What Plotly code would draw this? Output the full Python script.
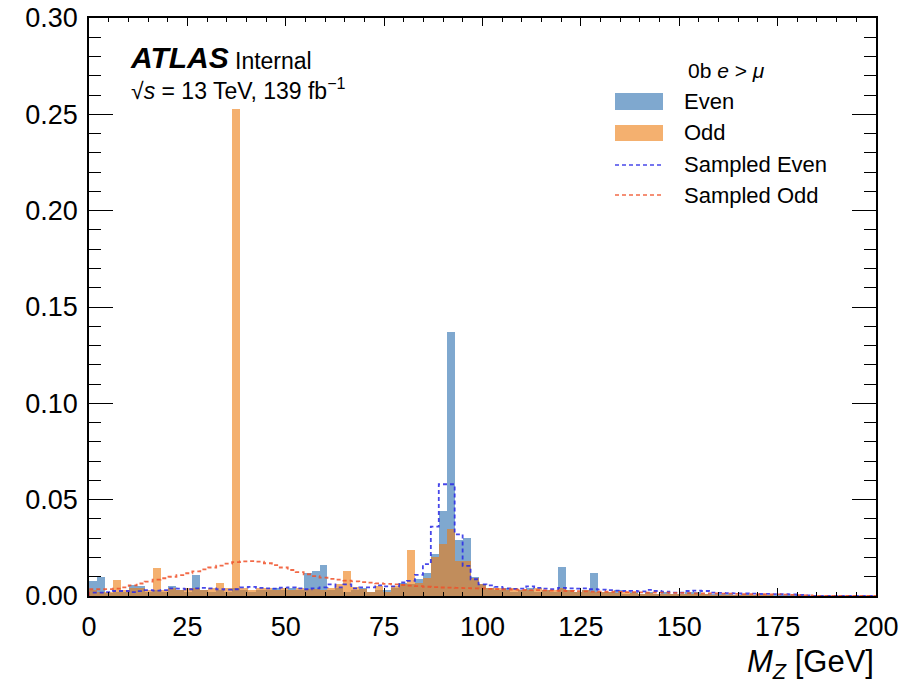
import numpy as np
import plotly.graph_objects as go

# ---------------- data (normalised counts per bin) ----------------
bin_edges = np.linspace(0, 200, 100)  # 99 bins

even = [
    0.008, 0.010, 0.0015, 0.002, 0.002, 0.0055, 0.005, 0.002, 0.003, 0.002,
    0.005, 0.003, 0.002, 0.011, 0.003, 0.002, 0.003, 0.002, 0.004, 0.003,
    0.002, 0.003, 0.003, 0.004, 0.003, 0.004, 0.003, 0.012, 0.013, 0.016,
    0.003, 0.004, 0.002, 0.003, 0.004, 0.002, 0.003, 0.003, 0.004, 0.007,
    0.006, 0.009, 0.012, 0.022, 0.044, 0.137, 0.029, 0.030, 0.010, 0.006,
    0.004, 0.003, 0.004, 0.002, 0.003, 0.004, 0.002, 0.003, 0.002, 0.015,
    0.003, 0.002, 0.003, 0.012, 0.002, 0.002, 0.003, 0.001, 0.002, 0.001,
    0.002, 0.001, 0.002, 0.001, 0.001, 0.002, 0.002, 0.001, 0.001, 0.001,
    0.001, 0.0005, 0.001, 0.0005, 0.001, 0.0005, 0.0005, 0.0005, 0.0003, 0.0003,
    0, 0, 0, 0, 0, 0, 0, 0, 0,
]

odd = [
    0.003, 0.002, 0.002, 0.0083, 0.003, 0.004, 0.004, 0.003, 0.0147, 0.003,
    0.004, 0.003, 0.004, 0.004, 0.003, 0.004, 0.007, 0.004, 0.253, 0.004,
    0.003, 0.004, 0.004, 0.003, 0.004, 0.003, 0.004, 0.0035, 0.0035, 0.003,
    0.004, 0.006, 0.013, 0.0045, 0.0035, 0.002, 0.005, 0.002, 0.005, 0.006,
    0.024, 0.007, 0.0095, 0.020, 0.027, 0.035, 0.018, 0.018, 0.0095, 0.006,
    0.004, 0.004, 0.003, 0.004, 0.003, 0.003, 0.004, 0.003, 0.003, 0.004,
    0.003, 0.002, 0.003, 0.002, 0.002, 0.002, 0.0015, 0.002, 0.0015, 0.001,
    0.0015, 0.001, 0.001, 0.001, 0.001, 0.001, 0.0008, 0.0008, 0.0006, 0.0006,
    0.0005, 0.0005, 0.0004, 0.0004, 0.0003, 0.0003, 0.0002, 0.0002, 0.0002, 0.0001,
    0, 0, 0, 0, 0, 0, 0, 0, 0,
]

sampled_even = [
    0.0017, 0.0017, 0.002, 0.0026, 0.0026, 0.002, 0.0025, 0.003, 0.0028, 0.003,
    0.004, 0.0038, 0.0035, 0.004, 0.0042, 0.004, 0.0035, 0.0033, 0.0035, 0.0045,
    0.0047, 0.0042, 0.004, 0.0038, 0.0043, 0.0045, 0.004, 0.0035, 0.004, 0.0045,
    0.006, 0.0045, 0.006, 0.004, 0.0045, 0.0045, 0.0055, 0.005, 0.005, 0.007,
    0.0078, 0.011, 0.0165, 0.036, 0.058, 0.058, 0.032, 0.0156, 0.0087, 0.006,
    0.0055, 0.0047, 0.004, 0.0037, 0.0038, 0.005, 0.0042, 0.0038, 0.0036, 0.0042,
    0.004, 0.0038, 0.004, 0.0035, 0.0033, 0.003, 0.0028, 0.0026, 0.0027, 0.0024,
    0.0032, 0.0026, 0.0022, 0.0018, 0.0018, 0.0026, 0.0028, 0.0026, 0.0018, 0.0016,
    0.0015, 0.0014, 0.0013, 0.0012, 0.0011, 0.0011, 0.001, 0.0009, 0.0008, 0.0006,
    0.0003, 0, 0, 0, 0, 0, 0, 0, 0,
]

sampled_odd = [
    0.0035, 0.0035, 0.0036, 0.0038, 0.0045, 0.0055, 0.0065, 0.0075, 0.0085, 0.0092,
    0.0100, 0.0108, 0.0118, 0.0128, 0.0138, 0.0148, 0.0158, 0.0168, 0.0176, 0.0180,
    0.0181, 0.0178, 0.0170, 0.0160, 0.0148, 0.0135, 0.0124, 0.0113, 0.0103, 0.0095,
    0.0089, 0.0085, 0.0080, 0.0076, 0.0072, 0.0069, 0.0066, 0.0063, 0.0060, 0.0057,
    0.0054, 0.0051, 0.0048, 0.0046, 0.0044, 0.0043, 0.0042, 0.0041, 0.0040, 0.0039,
    0.0037, 0.0036, 0.0035, 0.0033, 0.0032, 0.0031, 0.0030, 0.0029, 0.0028, 0.0027,
    0.0026, 0.0025, 0.0024, 0.0023, 0.0022, 0.0022, 0.0021, 0.0020, 0.0020, 0.0019,
    0.0018, 0.0018, 0.0017, 0.0016, 0.0016, 0.0015, 0.0014, 0.0014, 0.0013, 0.0012,
    0.0012, 0.0011, 0.0010, 0.0010, 0.0009, 0.0008, 0.0008, 0.0007, 0.0006, 0.0005,
    0.0003, 0, 0, 0, 0, 0, 0, 0, 0,
]

series_names = ["Even", "Odd", "Sampled Even", "Sampled Odd"]
x_ticks = [0, 25, 50, 75, 100, 125, 150, 175, 200]
y_ticks = [0.0, 0.05, 0.10, 0.15, 0.20, 0.25, 0.30]

# ---------------- styling ----------------
FONT = "Liberation Sans, Arial, Helvetica, sans-serif"
C_EVEN = "rgba(42,110,175,0.6)"
C_ODD = "rgba(237,123,15,0.6)"
C_SEVEN = "rgba(40,40,230,0.85)"
C_SODD = "rgba(240,80,40,0.85)"

centers = 0.5 * (bin_edges[:-1] + bin_edges[1:])
widths = np.diff(bin_edges)


def step_xy(vals):
    xs = [bin_edges[0]] + list(bin_edges)
    ys = [0.0] + list(vals) + [0.0]
    return xs, ys


fig = go.Figure()
fig.add_trace(go.Bar(x=centers, y=even, width=widths, name=series_names[0],
                     marker=dict(color=C_EVEN, line=dict(width=0)), showlegend=False))
fig.add_trace(go.Bar(x=centers, y=odd, width=widths, name=series_names[1],
                     marker=dict(color=C_ODD, line=dict(width=0)), showlegend=False))
xs, ys = step_xy(sampled_even)
fig.add_trace(go.Scatter(x=xs, y=ys, mode="lines", line_shape="hv", name=series_names[2],
                         line=dict(color=C_SEVEN, width=1.8, dash="4px,3px"), showlegend=False))
xs, ys = step_xy(sampled_odd)
fig.add_trace(go.Scatter(x=xs, y=ys, mode="lines", line_shape="hv", name=series_names[3],
                         line=dict(color=C_SODD, width=1.8, dash="4px,3px"), showlegend=False))

L, R, T, B = 89, 876, 18, 596
W, H = 912, 691


def px(X):
    return (X - L) / (R - L)


def py(Y):
    return (B - Y) / (B - T)


annotations = [
    dict(x=px(128), y=py(58), xref="paper", yref="paper", xanchor="left", yanchor="middle",
         text="<b><i>ATLAS</i></b>", showarrow=False, font=dict(family=FONT, size=30, color="black")),
    dict(x=px(233), y=py(61), xref="paper", yref="paper", xanchor="left", yanchor="middle",
         text="Internal", showarrow=False, font=dict(family=FONT, size=23, color="black")),
    dict(x=px(129), y=py(89), xref="paper", yref="paper", xanchor="left", yanchor="middle",
         text="\u221A<i>s</i> = 13 TeV, 139 fb<sup>\u22121</sup>", showarrow=False,
         font=dict(family=FONT, size=23, color="black")),
    dict(x=px(726), y=py(70), xref="paper", yref="paper", xanchor="center", yanchor="middle",
         text="0b <i>e</i> &gt; <i>\u03BC</i>", showarrow=False, font=dict(family=FONT, size=21, color="black")),
    dict(x=1.0, y=py(664), xref="paper", yref="paper", xanchor="right", yanchor="middle",
         text="<i>M</i><sub><i>Z</i></sub> [GeV]", showarrow=False,
         font=dict(family=FONT, size=31, color="black")),
]

legend_rows = [(101.5, series_names[0]), (132, series_names[1]), (164, series_names[2]), (195, series_names[3])]
for yc, name in legend_rows:
    annotations.append(dict(x=px(682), y=py(yc), xref="paper", yref="paper", xanchor="left",
                            yanchor="middle", text=name, showarrow=False,
                            font=dict(family=FONT, size=22, color="black")))

shapes = [
    dict(type="rect", xref="paper", yref="paper", x0=px(615), x1=px(663), y0=py(110), y1=py(93),
         fillcolor=C_EVEN, line=dict(width=0)),
    dict(type="rect", xref="paper", yref="paper", x0=px(615), x1=px(663), y0=py(141), y1=py(125),
         fillcolor=C_ODD, line=dict(width=0)),
    dict(type="line", xref="paper", yref="paper", x0=px(615), x1=px(663), y0=py(165), y1=py(165),
         line=dict(color=C_SEVEN, width=1.5, dash="4px,3px")),
    dict(type="line", xref="paper", yref="paper", x0=px(615), x1=px(663), y0=py(195), y1=py(195),
         line=dict(color=C_SODD, width=1.5, dash="4px,3px")),
]

fig.update_layout(
    width=W, height=H,
    margin=dict(l=L, r=W - R, t=T, b=H - B, autoexpand=False),
    paper_bgcolor="white", plot_bgcolor="white",
    barmode="overlay", bargap=0,
    font=dict(family=FONT, size=27, color="black"),
    annotations=annotations, shapes=shapes,
    showlegend=False,
)
fig.update_xaxes(
    range=[0, 200], tickvals=x_ticks, ticktext=[str(v) for v in x_ticks],
    ticks="inside", ticklen=8, tickwidth=1.3, tickcolor="black",
    minor=dict(dtick=5, tick0=0, ticks="inside", ticklen=4, tickwidth=1, tickcolor="black"),
    showline=True, linecolor="black", linewidth=1.5, mirror="allticks",
    showgrid=False, zeroline=False, tickfont=dict(size=27), ticklabelstandoff=6,
    automargin=False,
)
fig.update_yaxes(
    range=[0, 0.3], tickvals=y_ticks, ticktext=[f"{v:.2f}" for v in y_ticks],
    ticks="inside", ticklen=24, tickwidth=1.3, tickcolor="black",
    minor=dict(dtick=0.01, tick0=0, ticks="inside", ticklen=12, tickwidth=1, tickcolor="black"),
    showline=True, linecolor="black", linewidth=1.5, mirror="allticks",
    showgrid=False, zeroline=False, tickfont=dict(size=27), ticklabelstandoff=4,
    automargin=False,
)

fig.write_html("out.html")
